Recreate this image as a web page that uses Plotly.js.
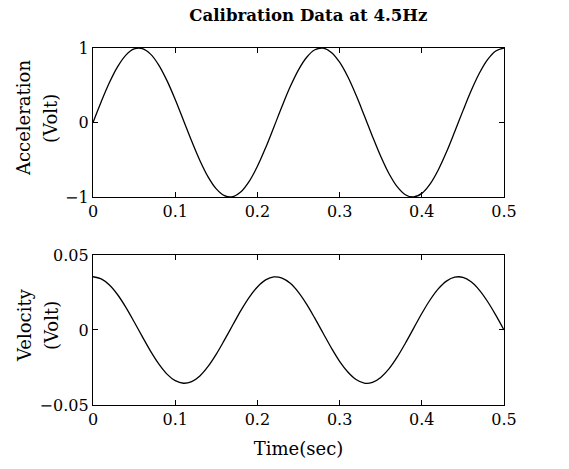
<!DOCTYPE html>
<html>
<head>
<meta charset="utf-8">
<script src="https://cdn.plot.ly/plotly-3.0.1.min.js"></script>
<style>html,body{margin:0;padding:0;background:#fff;}#chart{width:569px;height:469px;}</style>
</head>
<body>
<div id="chart"></div>
<script>
const time = [0.00,0.01,0.02,0.03,0.04,0.05,0.06,0.07,0.08,0.09,
  0.10,0.11,0.12,0.13,0.14,0.15,0.16,0.17,0.18,0.19,
  0.20,0.21,0.22,0.23,0.24,0.25,0.26,0.27,0.28,0.29,
  0.30,0.31,0.32,0.33,0.34,0.35,0.36,0.37,0.38,0.39,
  0.40,0.41,0.42,0.43,0.44,0.45,0.46,0.47,0.48,0.49,0.50];
const acceleration = [0.000,0.279,0.536,0.750,0.905,0.988,0.992,0.918,0.771,0.562,
  0.309,0.031,-0.249,-0.509,-0.729,-0.891,-0.982,-0.996,-0.930,-0.790,
  -0.588,-0.339,-0.063,0.218,0.482,0.707,0.876,0.976,0.998,0.941,
  0.809,0.613,0.368,0.094,-0.187,-0.454,-0.685,-0.861,-0.969,-0.999,
  -0.951,-0.827,-0.637,-0.397,-0.125,0.156,0.426,0.661,0.844,0.960,1.000];
const velocity = [0.0355,0.0341,0.0300,0.0235,0.0151,0.0055,-0.0044,-0.0141,-0.0226,-0.0294,
  -0.0338,-0.0355,-0.0344,-0.0306,-0.0243,-0.0161,-0.0066,0.0033,0.0131,0.0218,
  0.0287,0.0334,0.0354,0.0346,0.0311,0.0251,0.0171,0.0077,-0.0022,-0.0120,
  -0.0209,-0.0280,-0.0330,-0.0354,-0.0349,-0.0316,-0.0259,-0.0181,-0.0088,0.0011,
  0.0110,0.0200,0.0274,0.0326,0.0352,0.0351,0.0321,0.0266,0.0190,0.0099,0.0000];
const xTicks = [0,0.1,0.2,0.3,0.4,0.5];
const xTickText = ['0','0.1','0.2','0.3','0.4','0.5'];
const accTicks = [-1,0,1];
const accTickText = ['\u22121','0','1'];
const velTicks = [-0.05,0,0.05];
const velTickText = ['\u22120.05','0','0.05'];
const titleText = 'Calibration Data at 4.5Hz';
const accTitleLines = ['Acceleration','(Volt)'];
const velTitleLines = ['Velocity','(Volt)'];
const xTitleText = 'Time(sec)';

const FONT = 'DejaVu Serif, Liberation Serif, serif';
const lineStyle = {color:'#000', width:1.3, shape:'spline'};

const traces = [
  {x: time, y: acceleration, type:'scatter', mode:'lines', line: lineStyle, xaxis:'x', yaxis:'y', showlegend:false, hoverinfo:'skip'},
  {x: time, y: velocity, type:'scatter', mode:'lines', line: lineStyle, xaxis:'x2', yaxis:'y2', showlegend:false, hoverinfo:'skip'}
];

const axBase = {
  showline:true, mirror:'ticks', linecolor:'#000', linewidth:1.2,
  ticks:'inside', ticklen:5, tickwidth:1, tickcolor:'#000',
  showgrid:false, zeroline:false, ticklabelstandoff:0,
  tickfont:{family:FONT, size:16, color:'#000'}
};

const titleFont = {family:FONT, size:18, color:'#000'};
function yTitle(lines, xs, y) {
  return lines.map((t, i) => ({
    text: t, xref:'paper', yref:'paper', x: xs[i], y: y,
    xanchor:'center', yanchor:'middle', textangle:-90, showarrow:false, font:titleFont
  }));
}

const layout = {
  width:569, height:469,
  paper_bgcolor:'#fff', plot_bgcolor:'#fff',
  margin:{l:93, r:65, t:48, b:64},
  font:{family:FONT, color:'#000'},
  title:{text:'<b>' + titleText + '</b>', font:{family:FONT, size:16.6, color:'#000'},
    xref:'container', x:0.542, xanchor:'center', yref:'container', y:0.967, yanchor:'middle'},
  xaxis: Object.assign({}, axBase, {domain:[0,1], anchor:'y', range:[0,0.5], tickvals:xTicks, ticktext:xTickText}),
  yaxis: Object.assign({}, axBase, {domain:[0.5826,1], anchor:'x', range:[-1,1], tickvals:accTicks, ticktext:accTickText}),
  xaxis2: Object.assign({}, axBase, {domain:[0,1], anchor:'y2', range:[0,0.5], tickvals:xTicks, ticktext:xTickText,
    title:{text:xTitleText, font:titleFont, standoff:14}}),
  yaxis2: Object.assign({}, axBase, {domain:[0,0.4202], anchor:'x2', range:[-0.05,0.05], tickvals:velTicks, ticktext:velTickText}),
  annotations: yTitle(accTitleLines, [-0.1679, -0.1022], 0.804).concat(yTitle(velTitleLines, [-0.1679, -0.1022], 0.224))
};

Plotly.newPlot('chart', traces, layout, {staticPlot:true, displayModeBar:false});
</script>
</body>
</html>
